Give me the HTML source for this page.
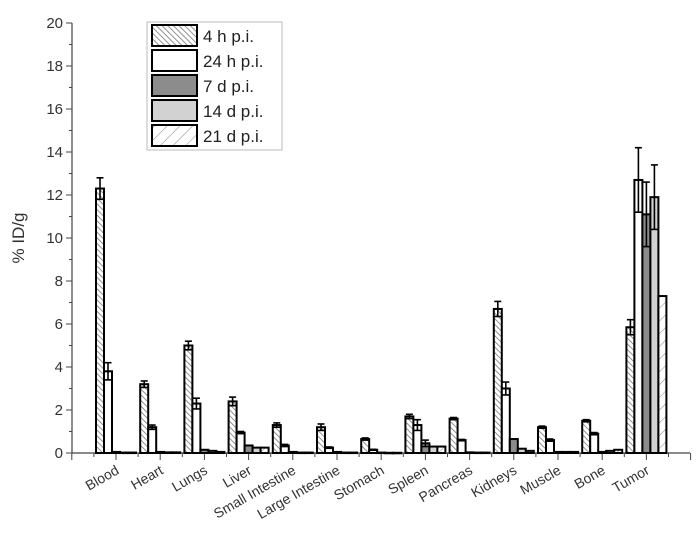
<!DOCTYPE html>
<html><head><meta charset="utf-8"><style>
body{margin:0;background:#fff;}
svg{display:block;font-family:"Liberation Sans",sans-serif;}
</style></head><body>
<svg id="chart" width="696" height="543" xmlns="http://www.w3.org/2000/svg">
<defs>
<pattern id="hatchDense" patternUnits="userSpaceOnUse" width="4" height="4" patternTransform="rotate(-45)">
<rect width="4" height="4" fill="#fff"/><line x1="0" y1="0" x2="0" y2="4" stroke="#777" stroke-width="1.6"/></pattern>
<pattern id="hatchSparse" patternUnits="userSpaceOnUse" width="9" height="9" patternTransform="rotate(45)">
<rect width="9" height="9" fill="#fff"/><line x1="0" y1="0" x2="0" y2="9" stroke="#888" stroke-width="1"/></pattern>
</defs>
<g id="axes"></g>
<g id="bars"></g>
<g id="legend"></g>
</svg>
<script>
const categories=["Blood","Heart","Lungs","Liver","Small Intestine","Large Intestine","Stomach","Spleen","Pancreas","Kidneys","Muscle","Bone","Tumor"];
const seriesNames=["4 h p.i.","24 h p.i.","7 d p.i.","14 d p.i.","21 d p.i."];
const s4h=[12.3,3.2,5.0,2.4,1.3,1.2,0.65,1.7,1.6,6.7,1.2,1.5,5.85];
const s24h=[3.8,1.2,2.3,0.95,0.35,0.25,0.15,1.3,0.6,3.0,0.6,0.9,12.7];
const s7d=[0.05,0.05,0.15,0.35,0.05,0.05,0.02,0.45,0.03,0.65,0.05,0.05,11.1];
const s14d=[0.02,0.03,0.1,0.25,0.02,0.02,0.01,0.3,0.02,0.2,0.05,0.1,11.9];
const s21d=[0.02,0.03,0.05,0.25,0.02,0.02,0.01,0.3,0.02,0.1,0.05,0.15,7.3];
const e4h=[0.5,0.15,0.2,0.2,0.1,0.15,0.05,0.1,0.05,0.35,0.05,0.05,0.35];
const e24h=[0.4,0.1,0.25,0.05,0.05,0.03,0.02,0.25,0.03,0.3,0.05,0.05,1.5];
const e7d=[0,0,0,0,0,0,0,0.15,0,0,0,0,1.5];
const e14d=[0,0,0,0,0,0,0,0,0,0,0,0,1.5];
const e21d=[0,0,0,0,0,0,0,0,0,0,0,0,0];
const yTicks=[0,2,4,6,8,10,12,14,16,18,20];
const series=[s4h,s24h,s7d,s14d,s21d];
const errs=[e4h,e24h,e7d,e14d,e21d];
const fills=["url(#hatchDense)","#fff","#8c8c8c","#d2d2d2","url(#hatchSparse)"];
const NS="http://www.w3.org/2000/svg";
const X0=116,DX=44.2,AXL=72,AXR=690,Y0=453,PY=21.5,BW=8;
const xC=i=>X0+i*DX;
const yS=v=>Y0-v*PY;
function mk(tag,attrs,parent){const e=document.createElementNS(NS,tag);for(const k in attrs)e.setAttribute(k,attrs[k]);parent.appendChild(e);return e;}
const axes=document.getElementById('axes'),bars=document.getElementById('bars'),leg=document.getElementById('legend');
let a=mk('line',{x1:AXL,y1:yS(20),x2:AXL,y2:Y0,stroke:'#444','stroke-width':1.2},axes);


a=mk('line',{x1:AXL,y1:Y0,x2:AXR,y2:Y0,stroke:'#444','stroke-width':1.2},axes);


for(let v=0;v<=20;v++){mk('line',{x1:AXL-(v%2?3:6),y1:yS(v),x2:AXL,y2:yS(v),stroke:'#444','stroke-width':1},axes);}
yTicks.forEach(v=>{const t=mk('text',{x:AXL-9,y:yS(v)+5,'text-anchor':'end','font-size':15,fill:'#333'},axes);t.textContent=v;

});
const yt=mk('text',{x:0,y:0,transform:'translate(24,238) rotate(-90)','text-anchor':'middle','font-size':17,fill:'#333'},axes);
yt.textContent='% ID/g';


for(let i=-1;i<=13;i++){mk('line',{x1:xC(i),y1:Y0,x2:xC(i),y2:Y0+7,stroke:'#444','stroke-width':1},axes);mk('line',{x1:xC(i)+DX/2,y1:Y0,x2:xC(i)+DX/2,y2:Y0+4,stroke:'#444','stroke-width':1},axes);}
categories.forEach((c,i)=>{const t=mk('text',{x:0,y:0,transform:`translate(${xC(i)+4},${Y0+20}) rotate(-30)`,'text-anchor':'end','font-size':14,fill:'#333'},axes);t.textContent=c;

});
series.forEach((s,k)=>{s.forEach((v,i)=>{const x=xC(i)-2.5*BW+k*BW;const y=yS(v);
const r=mk('rect',{x:x,y:y,width:BW,height:Math.max(Y0-y,0.5),fill:fills[k],stroke:'#000','stroke-width':2},bars);


const e=errs[k][i];if(e>0){const cx=x+BW/2;
mk('line',{x1:cx,y1:yS(v+e),x2:cx,y2:yS(v-e),stroke:'#000','stroke-width':1.6},bars);
mk('line',{x1:cx-3.5,y1:yS(v+e),x2:cx+3.5,y2:yS(v+e),stroke:'#000','stroke-width':1.6},bars);
mk('line',{x1:cx-3.5,y1:yS(v-e),x2:cx+3.5,y2:yS(v-e),stroke:'#000','stroke-width':1.6},bars);}});});
let lb=mk('rect',{x:147,y:22,width:135,height:128,fill:'#fff',stroke:'#bbb','stroke-width':1},leg);


seriesNames.forEach((n,k)=>{const y=25+k*25;
const sw=mk('rect',{x:152,y:y,width:45,height:21,fill:fills[k],stroke:'#000','stroke-width':2},leg);


const t=mk('text',{x:203,y:y+17,'font-size':17,fill:'#222'},leg);t.textContent=n;

});
</script>
</body></html>
